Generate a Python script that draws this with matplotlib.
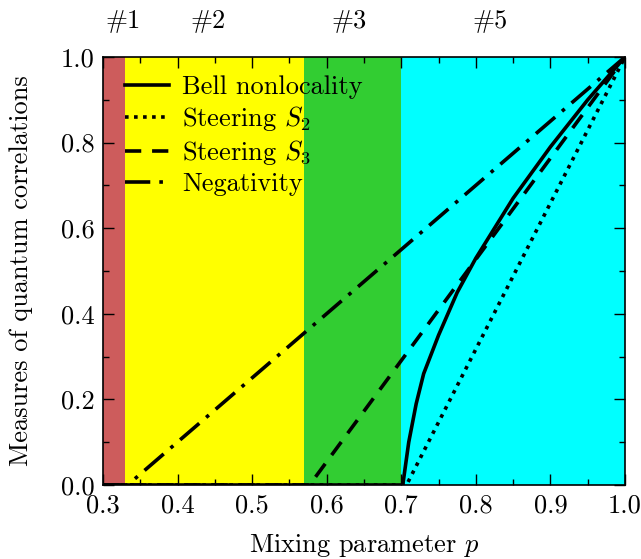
import matplotlib
matplotlib.use("Agg")
import matplotlib.pyplot as plt
from matplotlib.ticker import MultipleLocator

plt.rcParams['font.family'] = ['cmr10', 'DejaVu Serif']
plt.rcParams['mathtext.fontset'] = 'cm'
plt.rcParams['axes.formatter.use_mathtext'] = True
plt.rcParams['font.size'] = 19

# --- regions (boundaries on p) ---
region_edges = [0.3, 0.33, 0.57, 0.70, 1.0]
region_colors = ['#cd5c5c', '#ffff00', '#32cd32', '#00ffff']
region_labels = ['#1', '#2', '#3', '#5']
region_label_x = [0.303, 0.418, 0.607, 0.795]

# --- curves ---
p_bell = [0.30, 0.702, 0.71, 0.72, 0.73, 0.75, 0.775, 0.80, 0.85, 0.90, 0.95, 1.00]
bell = [0.0, 0.0, 0.10, 0.19, 0.26, 0.35, 0.45, 0.53, 0.67, 0.79, 0.90, 1.00]

p_s2 = [0.30, 0.707, 1.00]
s2 = [0.0, 0.0, 1.0]

p_s3 = [0.30, 0.577, 1.00]
s3 = [0.0, 0.0, 1.0]

p_neg = [0.30, 0.333, 1.00]
neg = [0.0, 0.0, 1.0]

fig = plt.figure(figsize=(6.41, 5.59), dpi=100)
ax = fig.add_axes([103/641, 1-485/559, 522/641, 428/559])

for i in range(len(region_colors)):
    ax.axvspan(region_edges[i], region_edges[i+1], color=region_colors[i], lw=0, zorder=0)
    ax.text(region_label_x[i], 1.055, region_labels[i], transform=ax.get_xaxis_transform(),
            ha='left', va='bottom')

lw = 2.6
ax.plot(p_bell, bell, color='k', lw=lw, ls='-', label='Bell nonlocality')
ax.plot(p_s2, s2, color='k', lw=lw, ls=(0, (1.0, 1.5)), label=r'Steering $S_2$')
ax.plot(p_s3, s3, color='k', lw=lw, ls=(0, (4.5, 3)), label=r'Steering $S_3$')
ax.plot(p_neg, neg, color='k', lw=lw, ls=(0, (7, 2.5, 1, 2.5)), label='Negativity')

ax.set_xlim(0.3, 1.0)
ax.set_ylim(0.0, 1.0)
ax.xaxis.set_major_locator(MultipleLocator(0.1))
ax.xaxis.set_minor_locator(MultipleLocator(0.05))
ax.yaxis.set_major_locator(MultipleLocator(0.2))
ax.yaxis.set_minor_locator(MultipleLocator(0.1))
ax.xaxis.set_major_formatter(plt.FuncFormatter(lambda v, _: f"{v:.1f}"))
ax.yaxis.set_major_formatter(plt.FuncFormatter(lambda v, _: f"{v:.1f}"))
for s in ax.spines.values():
    s.set_linewidth(1.2)
ax.tick_params(which='both', direction='in', top=True, right=True, width=1.0)
ax.tick_params(which='major', length=8, pad=6)
ax.tick_params(which='minor', length=4)

ax.set_xlabel(r'Mixing parameter $p$', labelpad=11)
ax.set_ylabel('Measures of quantum correlations', labelpad=20)

ax.legend(loc='upper left', frameon=False, handlelength=1.65,
          handletextpad=0.5, labelspacing=0.2, borderaxespad=0.0, bbox_to_anchor=(0.022, 0.982))

fig.savefig("out.png", dpi=100)
